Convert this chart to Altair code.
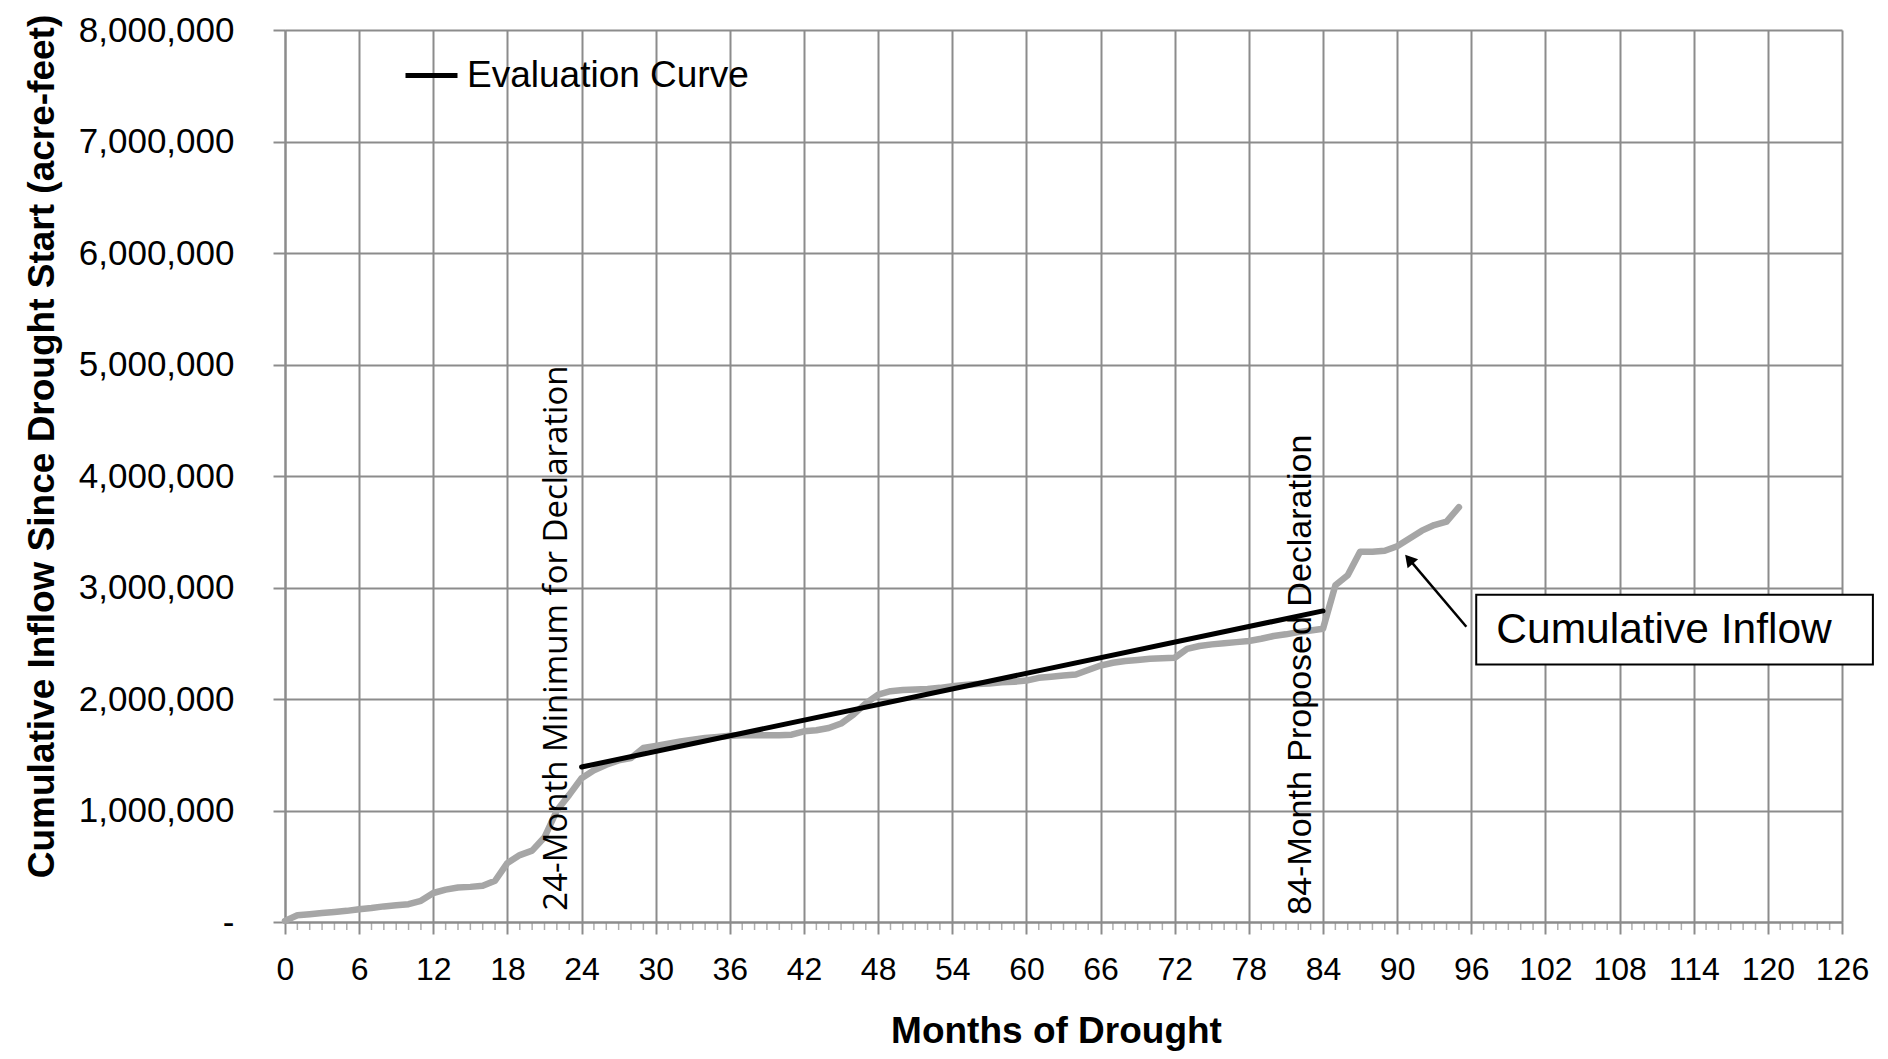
import altair as alt
import pandas as pd

# ---------------- data ----------------
months = list(range(0, 96))
inflow_maf = [
    0.01, 0.06, 0.07, 0.08, 0.09, 0.10, 0.115, 0.125, 0.14, 0.15,
    0.16, 0.19, 0.26, 0.29, 0.31, 0.315, 0.325, 0.37, 0.53, 0.60,
    0.64, 0.76, 1.00, 1.14, 1.29, 1.36, 1.41, 1.45, 1.47, 1.56,
    1.58, 1.60, 1.62, 1.635, 1.65, 1.66, 1.67, 1.675, 1.675, 1.675,
    1.675, 1.68, 1.71, 1.72, 1.74, 1.78, 1.86, 1.96, 2.04, 2.07,
    2.08, 2.085, 2.09, 2.10, 2.115, 2.125, 2.135, 2.14, 2.15, 2.155,
    2.165, 2.19, 2.20, 2.21, 2.22, 2.26, 2.30, 2.325, 2.34, 2.35,
    2.36, 2.365, 2.37, 2.45, 2.475, 2.49, 2.50, 2.51, 2.52, 2.54,
    2.565, 2.58, 2.60, 2.615, 2.63, 3.02, 3.11, 3.32, 3.32, 3.33,
    3.37, 3.44, 3.51, 3.56, 3.59, 3.72,
]
inflow = [round(v * 1_000_000) for v in inflow_maf]

eval_months = [24, 84]
eval_values = [1_390_000, 2_790_000]
eval_series = ["Evaluation Curve", "Evaluation Curve"]

x_tick_values = list(range(0, 127, 6))
x_minor_values = [m for m in range(0, 127) if m % 6 != 0]
y_tick_values = [i * 1_000_000 for i in range(0, 9)]

# annotations (data coordinates)
vtext1_label = ["24-Month Minimum for Declaration"]
vtext1_x = [22.0]
vtext1_y = [102_000]
vtext2_label = ["84-Month Proposed Declaration"]
vtext2_x = [82.26]
vtext2_y = [65_000]

box_x = [96.4]
box_x2 = [128.5]
box_y = [2_309_000]
box_y2 = [2_935_000]
box_label = ["Cumulative Inflow"]
box_label_x = [111.6]
box_label_y = [2_622_000]

arrow_x = [95.6]
arrow_y = [2_648_000]
arrow_x2 = [90.96]
arrow_y2 = [3_254_000]
arrow_angle = [319.7]

# ---------------- frames ----------------
df_in = pd.DataFrame({"month": months, "inflow": inflow})
df_ev = pd.DataFrame({"month": eval_months, "value": eval_values, "series": eval_series})
df_minor = pd.DataFrame({"month": x_minor_values, "zero": [0] * len(x_minor_values)})
df_vt1 = pd.DataFrame({"month": vtext1_x, "value": vtext1_y, "label": vtext1_label})
df_vt2 = pd.DataFrame({"month": vtext2_x, "value": vtext2_y, "label": vtext2_label})
df_box = pd.DataFrame({"x": box_x, "x2": box_x2, "y": box_y, "y2": box_y2})
df_boxlab = pd.DataFrame({"x": box_label_x, "y": box_label_y, "label": box_label})
df_arrow = pd.DataFrame({"x": arrow_x, "y": arrow_y, "x2": arrow_x2, "y2": arrow_y2,
                         "angle": arrow_angle})

GRID = "#8c8c8c"
FONT = "Liberation Sans"

xscale = alt.Scale(domain=[0, 126], nice=False, zero=False)
yscale = alt.Scale(domain=[0, 8_000_000], nice=False)

x_axis = alt.Axis(
    values=x_tick_values, title="Months of Drought", grid=True,
    gridColor=GRID, gridWidth=2, domainColor=GRID, domainWidth=2,
    tickColor=GRID, tickWidth=2, tickSize=12,
    labelFont=FONT, labelFontSize=32, labelColor="black", labelPadding=20,
    labelFlush=False, labelOverlap=False,
    titleFont=FONT, titleFontSize=37, titleFontWeight="bold", titleColor="black",
    titleX=771, titleY=120, titleAlign="center", titleBaseline="alphabetic",
)
y_axis = alt.Axis(
    values=y_tick_values, title="Cumulative Inflow Since Drought Start (acre-feet)",
    grid=True, gridColor=GRID, gridWidth=2, domainColor=GRID, domainWidth=2,
    tickColor=GRID, tickWidth=2, tickSize=12,
    labelFont=FONT, labelFontSize=35, labelColor="black", labelPadding=39,
    labelExpr="datum.value == 0 ? '-\u00a0\u00a0' : format(datum.value, ',')",
    labelFlush=False, labelOverlap=False,
    titleFont=FONT, titleFontSize=37, titleFontWeight="bold", titleColor="black",
    titleAngle=270, titleX=-243, titleY=416, titleAlign="center", titleBaseline="middle",
)


def X(field):
    return alt.X(field, scale=xscale, axis=x_axis)


def Y(field):
    return alt.Y(field, scale=yscale, axis=y_axis)


minor = alt.Chart(df_minor).mark_tick(
    orient="vertical", size=8, thickness=1.5, color=GRID, yOffset=4
).encode(x=X("month:Q"), y=Y("zero:Q"))

inflow_line = alt.Chart(df_in).mark_line(
    color="#a6a6a6", strokeWidth=6.5, strokeJoin="round", strokeCap="round"
).encode(x=X("month:Q"), y=Y("inflow:Q"))

eval_line = alt.Chart(df_ev).mark_line(strokeWidth=5, strokeCap="round").encode(
    x=X("month:Q"),
    y=Y("value:Q"),
    color=alt.Color(
        "series:N",
        scale=alt.Scale(domain=["Evaluation Curve"], range=["black"]),
        legend=alt.Legend(
            orient="none", legendX=118, legendY=17, title=None, padding=0,
            symbolType="stroke", symbolSize=2704, symbolStrokeWidth=5,
            symbolStrokeColor="black",
            labelFont=FONT, labelFontSize=37, labelColor="black", labelOffset=7,
            labelLimit=0,
        ),
    ),
)

vtext1 = alt.Chart(df_vt1).mark_text(
    angle=270, align="left", baseline="middle", fontSize=33, color="black",
    font="Open Sans",
).encode(x=X("month:Q"), y=Y("value:Q"), text="label:N")

vtext2 = alt.Chart(df_vt2).mark_text(
    angle=270, align="left", baseline="middle", fontSize=34, color="black",
    font=FONT,
).encode(x=X("month:Q"), y=Y("value:Q"), text="label:N")

arrow = alt.Chart(df_arrow).mark_rule(color="black", strokeWidth=2.5).encode(
    x=X("x:Q"), y=Y("y:Q"), x2="x2:Q", y2="y2:Q",
)
arrow_head = alt.Chart(df_arrow).mark_point(
    shape="triangle-up", filled=True, color="black", size=190, opacity=1
).encode(
    x=X("x2:Q"), y=Y("y2:Q"),
    angle=alt.Angle("angle:Q", scale=None),
)

box = alt.Chart(df_box).mark_rect(fill="white", stroke="black", strokeWidth=2).encode(
    x=X("x:Q"), y=Y("y:Q"), x2="x2:Q", y2="y2:Q",
)
box_text = alt.Chart(df_boxlab).mark_text(
    font=FONT, fontSize=42.5, color="black", align="center", baseline="middle"
).encode(x=X("x:Q"), y=Y("y:Q"), text="label:N")

chart = alt.layer(
    minor, inflow_line, eval_line, vtext1, vtext2, arrow, arrow_head, box, box_text
).properties(
    width=1557, height=892,
    padding={"left": 277, "top": 22, "right": 38, "bottom": 129},
    autosize=alt.AutoSizeParams(type="none"),
    background="white",
).configure_view(stroke=None)

chart.save("out.html", embed_options={"renderer": "svg", "actions": False})
